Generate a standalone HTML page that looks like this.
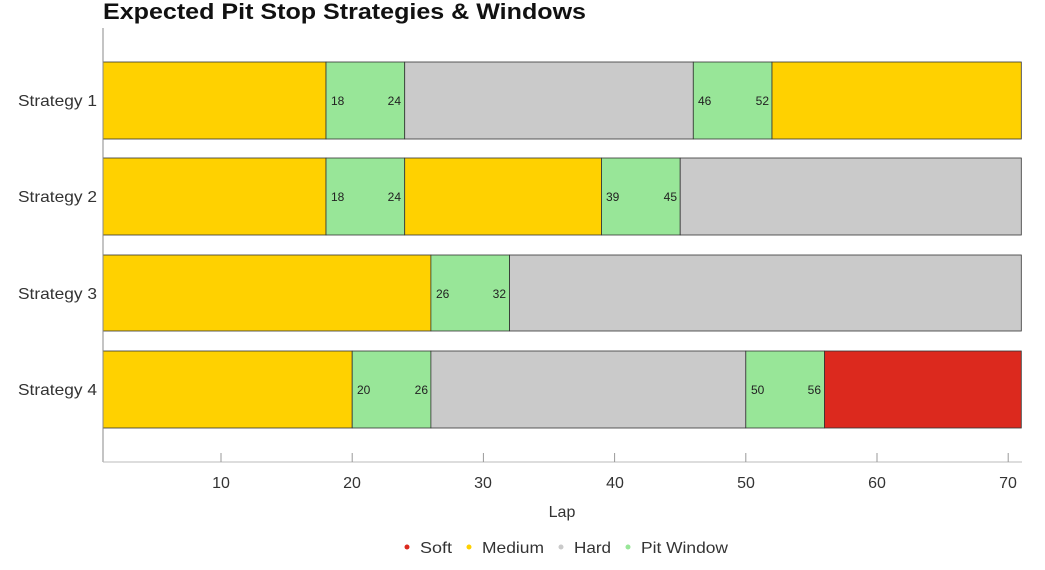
<!DOCTYPE html>
<html><head><meta charset="utf-8"><style>
body{margin:0;background:#fff;}
svg{display:block;font-family:"Liberation Sans",sans-serif;}
</style></head><body>
<svg width="1045" height="570" viewBox="0 0 1045 570" xmlns="http://www.w3.org/2000/svg">
<text x="103" y="19" font-size="22" font-weight="bold" fill="#111" textLength="483" lengthAdjust="spacingAndGlyphs">Expected Pit Stop Strategies &amp; Windows</text>
<g stroke="#333" stroke-width="0.8">
<rect x="103" y="62" width="223" height="77" fill="#FFD100"/>
<rect x="326" y="62" width="78.7" height="77" fill="#98E698"/>
<rect x="404.7" y="62" width="288.6" height="77" fill="#CACACA"/>
<rect x="693.3" y="62" width="78.7" height="77" fill="#98E698"/>
<rect x="772" y="62" width="249.3" height="77" fill="#FFD100"/>
<rect x="103" y="158" width="223" height="77" fill="#FFD100"/>
<rect x="326" y="158" width="78.7" height="77" fill="#98E698"/>
<rect x="404.7" y="158" width="196.8" height="77" fill="#FFD100"/>
<rect x="601.5" y="158" width="78.7" height="77" fill="#98E698"/>
<rect x="680.2" y="158" width="341.1" height="77" fill="#CACACA"/>
<rect x="103" y="255" width="327.9" height="76" fill="#FFD100"/>
<rect x="430.9" y="255" width="78.7" height="76" fill="#98E698"/>
<rect x="509.6" y="255" width="511.7" height="76" fill="#CACACA"/>
<rect x="103" y="351" width="249.2" height="77" fill="#FFD100"/>
<rect x="352.2" y="351" width="78.7" height="77" fill="#98E698"/>
<rect x="430.9" y="351" width="314.9" height="77" fill="#CACACA"/>
<rect x="745.8" y="351" width="78.7" height="77" fill="#98E698"/>
<rect x="824.5" y="351" width="196.8" height="77" fill="#DC291E"/>
</g>
<g font-size="12" fill="#222">
<text x="331" y="105">18</text><text x="401" y="105" text-anchor="end">24</text>
<text x="698" y="105">46</text><text x="769" y="105" text-anchor="end">52</text>
<text x="331" y="201">18</text><text x="401" y="201" text-anchor="end">24</text>
<text x="606" y="201">39</text><text x="677" y="201" text-anchor="end">45</text>
<text x="436" y="298">26</text><text x="506" y="298" text-anchor="end">32</text>
<text x="357" y="394">20</text><text x="428" y="394" text-anchor="end">26</text>
<text x="751" y="394">50</text><text x="821" y="394" text-anchor="end">56</text>
</g>
<g font-size="16" fill="#333">
<text x="18" y="106" textLength="79" lengthAdjust="spacingAndGlyphs">Strategy 1</text>
<text x="18" y="202" textLength="79" lengthAdjust="spacingAndGlyphs">Strategy 2</text>
<text x="18" y="299" textLength="79" lengthAdjust="spacingAndGlyphs">Strategy 3</text>
<text x="18" y="395" textLength="79" lengthAdjust="spacingAndGlyphs">Strategy 4</text>
</g>
<line x1="103" y1="28" x2="103" y2="462" stroke="#888" stroke-width="1"/>
<line x1="103" y1="462" x2="1022" y2="462" stroke="#bbb" stroke-width="1"/>
<g stroke="#999" stroke-width="1">
<line x1="221" y1="453" x2="221" y2="462"/><line x1="352.2" y1="453" x2="352.2" y2="462"/>
<line x1="483.4" y1="453" x2="483.4" y2="462"/><line x1="614.6" y1="453" x2="614.6" y2="462"/>
<line x1="745.8" y1="453" x2="745.8" y2="462"/><line x1="877" y1="453" x2="877" y2="462"/>
<line x1="1008.2" y1="453" x2="1008.2" y2="462"/>
</g>
<g font-size="16" fill="#333" text-anchor="middle">
<text x="221" y="488">10</text><text x="352" y="488">20</text><text x="483" y="488">30</text>
<text x="615" y="488">40</text><text x="746" y="488">50</text><text x="877" y="488">60</text>
<text x="1008" y="488">70</text>
<text x="562" y="517">Lap</text>
</g>
<g font-size="16" fill="#333">
<circle cx="407" cy="547" r="2.5" fill="#DC291E"/><text x="420" y="553" textLength="32" lengthAdjust="spacingAndGlyphs">Soft</text>
<circle cx="469" cy="547" r="2.5" fill="#FFD100"/><text x="482" y="553" textLength="62" lengthAdjust="spacingAndGlyphs">Medium</text>
<circle cx="561" cy="547" r="2.5" fill="#CACACA"/><text x="574" y="553" textLength="37" lengthAdjust="spacingAndGlyphs">Hard</text>
<circle cx="628" cy="547" r="2.5" fill="#98E698"/><text x="641" y="553" textLength="87" lengthAdjust="spacingAndGlyphs">Pit Window</text>
</g>
</svg>
</body></html>
